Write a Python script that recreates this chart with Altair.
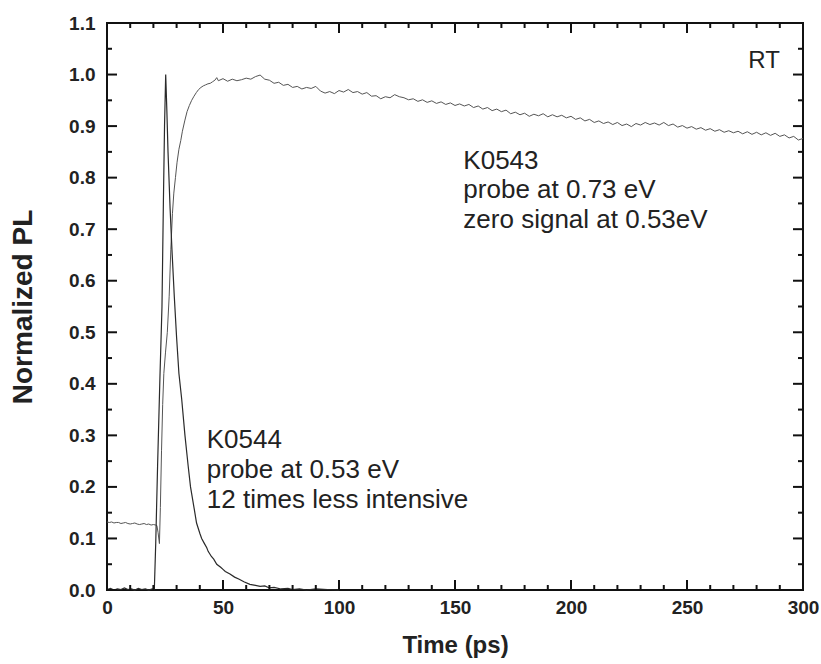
import altair as alt
import pandas as pd

# K0543 (probe at 0.73 eV)
k543_t = [0, 1, 2, 3, 4, 5, 6, 7, 8, 9, 10, 11, 12, 13, 14, 15, 16, 17, 18, 19, 20, 21, 21.5, 22, 22.6,
          23.0, 23.5, 24.0, 24.5, 25.2, 26.0, 26.8, 27.5, 28.2, 28.8, 29.5, 30.2, 31.0, 31.8, 32.5, 33.5,
          34.5, 35.5, 36.5, 37.5, 38.5, 39.5, 40.5, 41.5, 42.5, 43.5, 44.5, 45.5, 46.5, 47.3,
          48, 50, 52, 54, 56, 58, 60, 62, 64, 66, 68, 70, 72, 74, 76, 78, 80, 82, 84, 86, 88, 90,
          92, 94, 96, 98, 100, 102, 104, 106, 108, 110, 112, 114, 116, 118, 120, 122, 124, 126, 128,
          130, 132, 134, 136, 138, 140, 142, 144, 146, 148, 150, 152, 154, 156, 158, 160, 162, 164,
          166, 168, 170, 172, 174, 176, 178, 180, 182, 184, 186, 188, 190, 192, 194, 196, 198, 200,
          202, 204, 206, 208, 210, 212, 214, 216, 218, 220, 222, 224, 226, 228, 230, 232, 234, 236,
          238, 240, 242, 244, 246, 248, 250, 252, 254, 256, 258, 260, 262, 264, 266, 268, 270, 272,
          274, 276, 278, 280, 282, 284, 286, 288, 290, 292, 294, 296, 298, 300]
k543_v = [.132, .131, .132, .130, .131, .131, .129, .130, .131, .129, .128, .129, .130, .128, .127, .128,
          .129, .127, .128, .126, .127, .126, .125, .112, .090,
          .16, .27, .36, .42, .46, .50, .57, .66, .73, .77, .80, .83, .855, .872, .89, .91,
          .928, .94, .95, .958, .965, .971, .975, .978, .980, .982, .983, .986, .989, .994,
          .988, .992, .987, .991, .988, .990, .993, .991, .996, .999, .991, .989, .983, .985, .979,
          .981, .975, .977, .972, .975, .973, .977,
          .968, .964, .967, .963, .969, .966, .971, .965, .967, .962, .965, .958, .959, .953, .957,
          .955, .961, .957, .955,
          .951, .953, .948, .951, .946, .949, .944, .947, .942, .945, .940, .943, .939, .942, .936,
          .939, .933, .936,
          .930, .933, .928, .931, .924, .927, .922, .925, .919, .923, .920, .924, .918, .922, .918,
          .921, .916, .919,
          .913, .916, .910, .913, .907, .910, .905, .908, .903, .907, .901, .904, .899, .905, .902,
          .907, .903, .906,
          .902, .907, .901, .904, .898, .901, .896, .899, .894, .897, .892, .895, .890, .893, .888,
          .891, .887, .890,
          .885, .889, .884, .888, .883, .887, .882, .886, .880, .883, .877, .880, .873, .876]

# K0544 (probe at 0.53 eV)
k544_t = [0, 1.5, 3, 4.5, 6, 7.5, 9, 10.5, 12, 13.5, 15, 16.5, 18, 19.5, 20.4, 21, 21.8, 22.8, 23.7,
          24.3, 24.8, 25.3, 25.8, 26.3, 27.2, 28, 29, 30, 31, 32.2, 33.6, 35, 36, 37.5, 38.6, 40,
          40.8, 42, 43, 43.6, 45, 46, 47.3, 49, 50, 51, 53, 55, 57, 59, 61.6, 64, 66, 68, 70, 72,
          75, 78, 80, 83, 86, 90, 95, 100]
k544_v = [.001, .003, 0, .002, .001, .004, .001, .002, 0, .003, .001, .002, 0, .002, .001, .09, .24,
          .41, .55, .75, .90, 1.0, .93, .85, .74, .66, .57, .49, .42, .37, .30, .24, .20, .16, .13,
          .11, .10, .09, .082, .075, .065, .06, .05, .044, .04, .036, .031, .025, .021, .016, .011,
          .009, .007, .008, .004, .005, .002, .003, .001, .002, 0, .002, .001, 0]

x_major = [0, 50, 100, 150, 200, 250, 300]
x_minor = [10, 20, 30, 40, 60, 70, 80, 90, 110, 120, 130, 140, 160, 170, 180, 190,
           210, 220, 230, 240, 260, 270, 280, 290]
y_major = [0.0, 0.1, 0.2, 0.3, 0.4, 0.5, 0.6, 0.7, 0.8, 0.9, 1.0, 1.1]
y_minor = [0.05, 0.15, 0.25, 0.35, 0.45, 0.55, 0.65, 0.75, 0.85, 0.95, 1.05]

notes_text = ["K0543", "probe at 0.73 eV", "zero signal at 0.53eV",
              "K0544", "probe at 0.53 eV", "12 times less intensive"]
notes_t = [153.6, 153.6, 153.6, 43.0, 43.0, 43.0]
notes_v = [0.817, 0.760, 0.703, 0.2755, 0.217, 0.159]
rt_text = ["RT"]
rt_t = [290]
rt_v = [1.012]

W, H = 696, 567
FONT = "Liberation Sans"
xs = alt.Scale(domain=[0, 300], nice=False, zero=False)
ys = alt.Scale(domain=[0, 1.1], nice=False, zero=False)

X_AX = alt.Axis(
    values=x_major, ticks=False, domain=False, grid=False, labelFont=FONT,
    labelFontWeight="bold", labelFontSize=19, labelColor="#222", labelPadding=8,
    labelFlush=False, title="Time (ps)", titleFont=FONT, titleFontSize=24,
    titleFontWeight="bold", titleColor="#222", titlePadding=16)
Y_AX = alt.Axis(
    values=y_major, format=".1f", ticks=False, domain=False, grid=False, labelFont=FONT,
    labelFontWeight="bold", labelFontSize=19, labelColor="#222", labelPadding=12,
    labelFlush=False, title="Normalized PL", titleFont=FONT, titleFontSize=28,
    titleFontWeight="bold", titleColor="#222", titlePadding=31)

def X(field="t:Q"):
    return alt.X(field, scale=xs, axis=X_AX)

def Y(field="v:Q"):
    return alt.Y(field, scale=ys, axis=Y_AX)

d543 = pd.DataFrame({"t": k543_t, "v": k543_v})
d544 = pd.DataFrame({"t": k544_t, "v": k544_v})

line543 = alt.Chart(d543).mark_line(color="#555555", strokeWidth=1).encode(
    x=X(), y=Y(), order="t:Q")
line544 = alt.Chart(d544).mark_line(color="#2a2a2a", strokeWidth=1.2).encode(
    x=X(), y=Y(), order="t:Q")

def xticks(vals, length):
    df = pd.DataFrame({"t": vals})
    base = alt.Chart(df).mark_rule(color="#111", strokeWidth=2)
    bottom = base.encode(x=X(), y=alt.value(H), y2=alt.value(H - length))
    top = base.encode(x=X(), y=alt.value(0), y2=alt.value(length))
    return [bottom, top]

def yticks(vals, length):
    df = pd.DataFrame({"v": vals})
    base = alt.Chart(df).mark_rule(color="#111", strokeWidth=2)
    left = base.encode(y=Y(), x=alt.value(0), x2=alt.value(length))
    right = base.encode(y=Y(), x=alt.value(W), x2=alt.value(W - length))
    return [left, right]

notes = alt.Chart(pd.DataFrame({"t": notes_t, "v": notes_v, "label": notes_text})).mark_text(
    align="left", baseline="alphabetic", font=FONT, fontSize=26, color="#222"
).encode(x=X(), y=Y(), text="label:N")

rt = alt.Chart(pd.DataFrame({"t": rt_t, "v": rt_v, "label": rt_text})).mark_text(
    align="right", baseline="alphabetic", font=FONT, fontSize=24, color="#222"
).encode(x=X(), y=Y(), text="label:N")

layers = [line543, line544] + xticks(x_major, 10) + xticks(x_minor, 5) \
    + yticks(y_major, 10) + yticks(y_minor, 5) + [notes, rt]

chart = alt.layer(*layers).properties(
    width=W, height=H,
    autosize=alt.AutoSizeParams(type="none"),
    padding={"left": 107, "top": 23, "right": 18, "bottom": 74},
    background="white",
).configure_view(stroke="#111", strokeWidth=2)

chart.save("out.html", embed_options={"renderer": "svg", "actions": False})
